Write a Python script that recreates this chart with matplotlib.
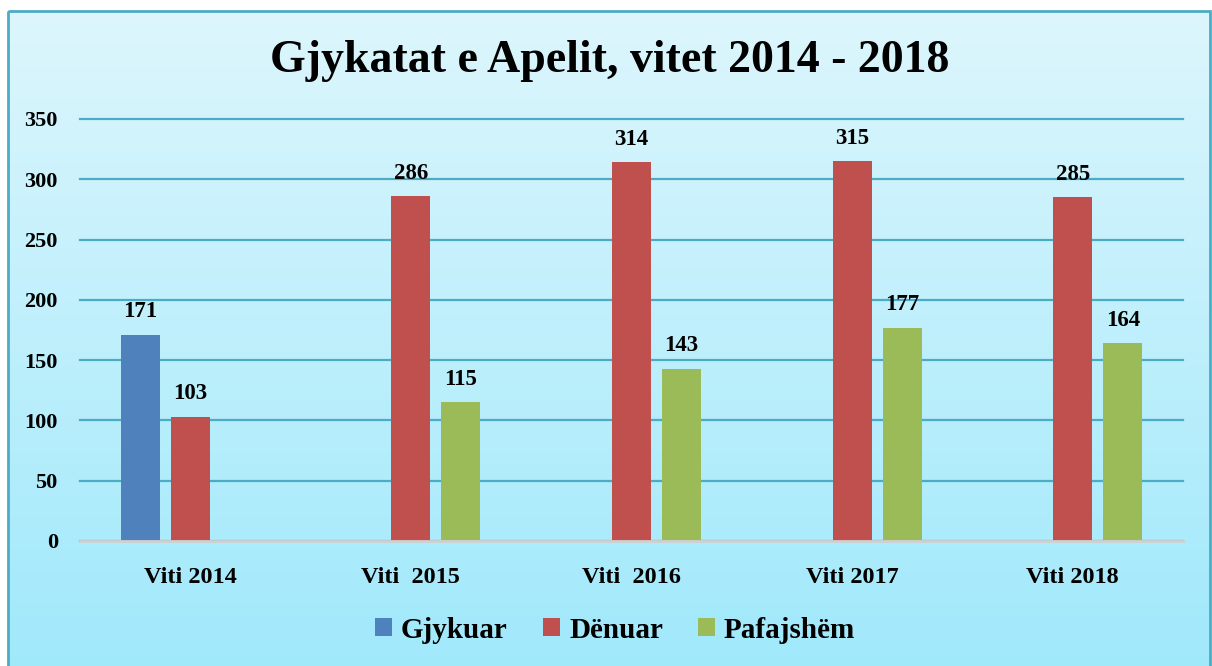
import numpy as np
import matplotlib
matplotlib.use("Agg")
import matplotlib.pyplot as plt
from matplotlib.patches import Rectangle
from matplotlib.colors import LinearSegmentedColormap

categories = ["Viti 2014", "Viti  2015", "Viti  2016", "Viti 2017", "Viti 2018"]
series_names = ["Gjykuar", "Dënuar", "Pafajshëm"]
gjykuar = [171, np.nan, np.nan, np.nan, np.nan]
denuar = [103, 286, 314, 315, 285]
pafajshem = [np.nan, 115, 143, 177, 164]
y_ticks = [0, 50, 100, 150, 200, 250, 300, 350]
title = "Gjykatat e Apelit, vitet 2014 - 2018"

colors = ["#4F81BD", "#C0504D", "#9BBB59"]
FONT = "Liberation Serif"

W, H = 1212, 666
fig = plt.figure(figsize=(W / 100, H / 100), dpi=100)
fig.patch.set_facecolor("white")

# background with gradient
bg = fig.add_axes([0, 0, 1, 1], zorder=-1)
bg.axis("off")
cmap = LinearSegmentedColormap.from_list("bgc", ["#DDF6FD", "#A0E9FB"])
grad = np.linspace(0, 1, 256).reshape(-1, 1)
bg.imshow(grad, cmap=cmap, extent=(8, 1210, 668, 11), aspect="auto", origin="upper")
bg.add_patch(Rectangle((8, 11), 1202, 660, fill=False, edgecolor="#4BACC6", linewidth=2))
bg.set_xlim(0, W)
bg.set_ylim(H, 0)

ax = fig.add_axes([80 / W, (H - 541) / H, (1183 - 80) / W, (541 - 119) / H])
ax.set_facecolor("none")
x = np.arange(len(categories))
offsets = [-0.227, 0.0, 0.227]
width = 0.177
for vals, off, col, name in zip([gjykuar, denuar, pafajshem], offsets, colors, series_names):
    ax.bar(x + off, vals, width=width, color=col, label=name, zorder=3)
    for xi, v in zip(x + off, vals):
        if not np.isnan(v):
            ax.annotate(f"{int(v)}", (xi, v), xytext=(0, 9), textcoords="offset points",
                        ha="center", va="bottom", fontsize=16.5, fontweight="bold",
                        family=FONT, color="#000000")

ax.set_xlim(-0.5, len(categories) - 0.5)
ax.set_ylim(0, 350)
ax.set_yticks(y_ticks)
ax.set_yticklabels([str(t) for t in y_ticks], fontsize=16, fontweight="bold", family=FONT)
ax.set_xticks(x)
ax.set_xticklabels(categories, fontsize=17.5, fontweight="bold", family=FONT)
ax.tick_params(axis="both", length=0)
ax.tick_params(axis="y", pad=16)
ax.tick_params(axis="x", pad=19)
for s in ["top", "right", "left"]:
    ax.spines[s].set_visible(False)
ax.spines["bottom"].set_color("#D0D0D0")
ax.spines["bottom"].set_linewidth(2)
ax.spines["bottom"].set_zorder(4)
ax.yaxis.grid(True, color="#4BACC6", linewidth=1.6, zorder=0)
for gl in ax.get_ygridlines():
    gl.set_clip_on(False)
ax.set_axisbelow(True)
ax.grid(axis="x", visible=False)

fig.text(610 / W, 1 - 61 / H, title, ha="center", va="center", fontsize=33,
         fontweight="bold", family=FONT)

handles, labels = ax.get_legend_handles_labels()
leg = fig.legend(handles, labels, loc="center", bbox_to_anchor=(615 / W, 1 - 630 / H),
                 ncol=3, frameon=False, prop={"family": FONT, "weight": "bold", "size": 21},
                 handlelength=0.6, handleheight=0.6, handletextpad=0.3, columnspacing=1.2)

fig.savefig("out.png", dpi=100)
